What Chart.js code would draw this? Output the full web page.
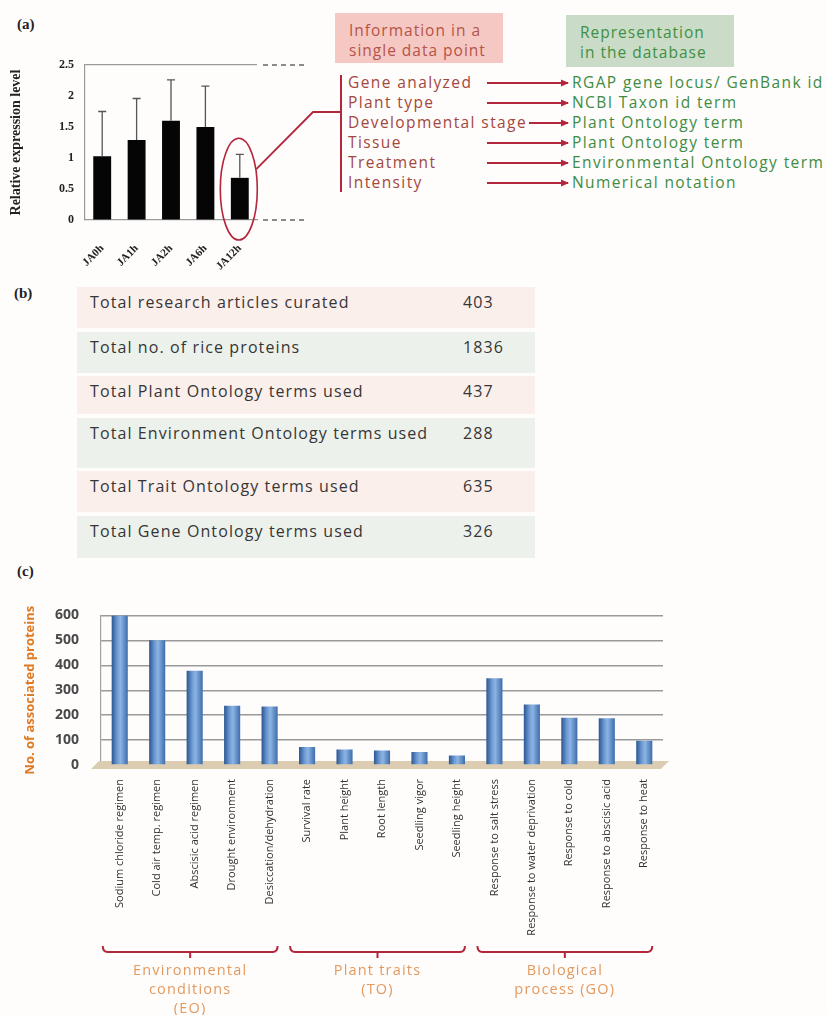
<!DOCTYPE html>
<html>
<head>
<meta charset="utf-8">
<script src="https://cdn.jsdelivr.net/npm/chart.js@4.4.1/dist/chart.umd.min.js"></script>
<style>
  body { margin: 0; width: 827px; height: 1015px; position: relative; overflow: hidden;
         background: #fffcfc; font-family: "Open Sans", sans-serif; }
  .abs { position: absolute; }
  .tag { font: bold 15px "Liberation Serif", serif; color: #222; }
  .box { position: absolute; padding: 7px 0 0 14px; box-sizing: border-box;
         font-size: 15.5px; line-height: 20px; letter-spacing: 1px; }
  .item { position: absolute; font-size: 15.5px; line-height: 20px; letter-spacing: 1.4px; white-space: nowrap; }
  .row { position: absolute; left: 77px; width: 458px; box-sizing: border-box;
         font-size: 16px; line-height: 20px; letter-spacing: 1.1px; color: #363636; padding-top: 5px; }
  .row .lbl { position: absolute; left: 13px; }
  .row .val { position: absolute; left: 386px; }
</style>
</head>
<body>

<div class="abs tag" style="left:17px;top:16px">(a)</div>
<div class="abs tag" style="left:14px;top:285px">(b)</div>
<div class="abs tag" style="left:17px;top:563px">(c)</div>

<div class="abs" style="left:0;top:40px;width:345px;height:230px"><canvas id="chart-expr"></canvas></div>

<div class="box" style="left:335px;top:13px;width:168px;height:50px;background:#f6c8c4;color:#b45448">Information in a<br>single data point</div>
<div class="box" style="left:566px;top:15px;width:168px;height:52px;background:#cadcc7;color:#3f8f44">Representation<br>in the database</div>
<div id="info"></div>
<svg id="arrows" class="abs" style="left:0;top:0" width="827" height="260"></svg>

<div id="stats"></div>

<div class="abs" style="left:0;top:585px;width:690px;height:430px"><canvas id="chart-terms"></canvas></div>

<script>
/* ── data ── */
const timePoints = ['JA0h', 'JA1h', 'JA2h', 'JA6h', 'JA12h'];
const relExpression = [1.03, 1.29, 1.60, 1.50, 0.68];
const relExpressionErrTop = [1.75, 1.96, 2.26, 2.16, 1.06];

const infoItems = ['Gene analyzed', 'Plant type', 'Developmental stage', 'Tissue', 'Treatment', 'Intensity'];
const dbItems = ['RGAP gene locus/ GenBank id', 'NCBI Taxon id term', 'Plant Ontology term',
                 'Plant Ontology term', 'Environmental Ontology term', 'Numerical notation'];

const statLabels = ['Total research articles curated', 'Total no. of rice proteins',
                    'Total Plant Ontology terms used', 'Total Environment Ontology terms used',
                    'Total Trait Ontology terms used', 'Total Gene Ontology terms used'];
const statValues = [403, 1836, 437, 288, 635, 326];

const termLabels = ['Sodium chloride regimen', 'Cold air temp. regimen', 'Abscisic acid regimen',
                    'Drought environment', 'Desiccation/dehydration',
                    'Survival rate', 'Plant height', 'Root length', 'Seedling vigor', 'Seedling height',
                    'Response to salt stress', 'Response to water deprivation', 'Response to cold',
                    'Response to abscisic acid', 'Response to heat'];
const termCounts = [600, 500, 378, 238, 235, 72, 62, 58, 52, 38, 348, 243, 190, 188, 97];

const groupNames = [['Environmental', 'conditions', '(EO)'], ['Plant traits', '(TO)'], ['Biological', 'process (GO)']];
const groupStart = [0, 5, 10];
const groupEnd = [4, 9, 14];

/* ── layout bits (not data) ── */
const SERIF = '"Liberation Serif", "DejaVu Serif", serif';
const RED = '#b3263c';
const ITEM_TOP = 72, ITEM_STEP = 20, ITEM_LEFT = 348, DB_LEFT = 572, ARROW_END = 568;
const ROW_TOP = 287, ROW_HEIGHTS = [41, 41, 38, 50, 41, 42], ROW_GAP = 3.5;
const ROW_COLORS = ['#fbefec', '#edf1ec'];

/* ── (a) info list + arrows ── */
const infoBox = document.getElementById('info');
const svg = document.getElementById('arrows');
let svgHtml = `<defs><marker id="ah" markerWidth="8" markerHeight="8" refX="7" refY="4" orient="auto" markerUnits="userSpaceOnUse">
  <path d="M0,0.5 L8,4 L0,7.5 z" fill="${RED}"/></marker></defs>`;
svgHtml += `<line x1="341" y1="75" x2="341" y2="192" stroke="${RED}" stroke-width="2"/>`;
infoItems.forEach((t, i) => {
  const top = ITEM_TOP + i * ITEM_STEP;
  const l = document.createElement('div');
  l.className = 'item'; l.style.left = ITEM_LEFT + 'px'; l.style.top = top + 'px'; l.style.color = '#a2473d';
  l.textContent = t; infoBox.appendChild(l);
  const r = document.createElement('div');
  r.className = 'item'; r.style.left = DB_LEFT + 'px'; r.style.top = top + 'px'; r.style.color = '#3e8c42';
  r.textContent = dbItems[i]; infoBox.appendChild(r);
  const x1 = Math.max(487, ITEM_LEFT + l.offsetWidth + 2);
  const y = top + 11;
  svgHtml += `<line x1="${x1}" y1="${y}" x2="${ARROW_END}" y2="${y}" stroke="${RED}" stroke-width="2" marker-end="url(#ah)"/>`;
});
svg.innerHTML = svgHtml;

/* ── (b) stats table ── */
const statsBox = document.getElementById('stats');
let rowTop = ROW_TOP;
statLabels.forEach((t, i) => {
  const row = document.createElement('div');
  row.className = 'row';
  row.style.top = rowTop + 'px';
  row.style.height = ROW_HEIGHTS[i] + 'px';
  row.style.background = ROW_COLORS[i % 2];
  row.innerHTML = `<span class="lbl">${t}</span><span class="val">${statValues[i]}</span>`;
  statsBox.appendChild(row);
  rowTop += ROW_HEIGHTS[i] + ROW_GAP;
});

/* ── (a) expression bar chart ── */
const exprExtras = {
  id: 'exprExtras',
  afterDatasetsDraw(chart) {
    const { ctx, scales: { y }, chartArea } = chart;
    const bars = chart.getDatasetMeta(0).data;
    ctx.save();
    // error bars (upper half only)
    ctx.strokeStyle = '#555';
    ctx.lineWidth = 1.3;
    bars.forEach((b, i) => {
      const yt = y.getPixelForValue(relExpressionErrTop[i]);
      ctx.beginPath();
      ctx.moveTo(b.x, b.y); ctx.lineTo(b.x, yt);
      ctx.moveTo(b.x - 4, yt); ctx.lineTo(b.x + 4, yt);
      ctx.stroke();
    });
    // dashed continuation of the top / bottom lines
    ctx.strokeStyle = '#666';
    ctx.setLineDash([5, 4]);
    [y.max, y.min].forEach(v => {
      const py = y.getPixelForValue(v);
      ctx.beginPath(); ctx.moveTo(chartArea.right + 6, py); ctx.lineTo(chartArea.right + 48, py); ctx.stroke();
    });
    ctx.setLineDash([]);
    // ellipse around the last bar and connector to the bracket
    const last = bars[bars.length - 1];
    const top = y.getPixelForValue(relExpressionErrTop[bars.length - 1]) - 16;
    const bottom = y.getPixelForValue(0) + 20;
    const cx = last.x - 1, cy = (top + bottom) / 2, rx = 18.5, ry = (bottom - top) / 2;
    ctx.strokeStyle = RED;
    ctx.lineWidth = 1.6;
    ctx.beginPath(); ctx.ellipse(cx, cy, rx, ry, 0, 0, Math.PI * 2); ctx.stroke();
    ctx.lineWidth = 1.8;
    ctx.beginPath();
    ctx.moveTo(cx + rx - 1, cy - 20);
    ctx.lineTo(313, 112 - 40);
    ctx.lineTo(342, 112 - 40);
    ctx.stroke();
    ctx.restore();
  },
};

new Chart(document.getElementById('chart-expr'), {
  type: 'bar',
  data: {
    labels: timePoints,
    datasets: [{
      data: relExpression,
      backgroundColor: '#050505',
      barPercentage: 0.52,
      categoryPercentage: 1,
    }],
  },
  plugins: [exprExtras],
  options: {
    responsive: true,
    maintainAspectRatio: false,
    animation: false,
    layout: { padding: { top: 25, right: 88, left: 0, bottom: 0 } },
    plugins: { legend: { display: false }, tooltip: { enabled: false } },
    scales: {
      x: {
        grid: { display: false },
        border: { color: '#9a9a9a', width: 1.2 },
        ticks: { color: '#222', font: { family: SERIF, size: 11, weight: 'bold' },
                 minRotation: 45, maxRotation: 45, padding: 14 },
        afterFit: s => { s.height = 50; },
      },
      y: {
        min: 0, max: 2.5,
        grid: { drawTicks: false, color: c => (c.tick && c.tick.value === 2.5 ? '#9a9a9a' : 'transparent'), lineWidth: 1.2 },
        border: { color: '#9a9a9a', width: 1.2 },
        ticks: { stepSize: 0.5, padding: 11, color: '#222', font: { family: SERIF, size: 12, weight: 'bold' },
                 callback: v => String(+v.toFixed(1)) },
        title: { display: true, text: 'Relative expression level', color: '#222',
                 font: { family: SERIF, size: 14, weight: 'bold' }, padding: { top: 8, bottom: 0 } },
        afterFit: s => { s.width = 85; },
      },
    },
  },
});

/* ── (c) associated proteins chart ── */
const termExtras = {
  id: 'termExtras',
  beforeDatasetsDraw(chart) {
    const { ctx, chartArea: a } = chart;
    ctx.save();
    ctx.fillStyle = '#dccdb2';
    ctx.beginPath();
    ctx.moveTo(a.left - 10, a.bottom + 4);
    ctx.lineTo(a.right - 2, a.bottom + 4);
    ctx.lineTo(a.right + 6, a.bottom - 4);
    ctx.lineTo(a.left - 2, a.bottom - 4);
    ctx.closePath();
    ctx.fill();
    ctx.restore();
  },
  afterDraw(chart) {
    const { ctx, scales: { x } } = chart;
    const by = 952 - 585;
    ctx.save();
    ctx.strokeStyle = RED;
    ctx.lineWidth = 2;
    groupNames.forEach((lines, g) => {
      const x0 = x.getPixelForValue(groupStart[g]) - 17;
      const x1 = x.getPixelForValue(groupEnd[g]) + 8;
      const xm = (x0 + x1) / 2;
      ctx.beginPath();
      ctx.moveTo(x0, by - 6);
      ctx.quadraticCurveTo(x0, by, x0 + 5, by);
      ctx.lineTo(x1 - 5, by);
      ctx.quadraticCurveTo(x1, by, x1, by - 6);
      ctx.moveTo(xm, by); ctx.lineTo(xm, by + 6);
      ctx.stroke();
      ctx.fillStyle = '#e39a5e';
      ctx.font = '14.5px "Open Sans", sans-serif';
      ctx.letterSpacing = '1.2px';
      ctx.textAlign = 'center';
      ctx.textBaseline = 'middle';
      lines.forEach((t, k) => ctx.fillText(t, xm, by + 19 + k * 19));
    });
    ctx.restore();
  },
};

new Chart(document.getElementById('chart-terms'), {
  type: 'bar',
  data: {
    labels: termLabels,
    datasets: [{
      data: termCounts,
      barPercentage: 0.43,
      categoryPercentage: 1,
      backgroundColor: c => {
        const ch = c.chart;
        if (!ch.chartArea || c.dataIndex == null) return '#4f81bd';
        const px = ch.scales.x.getPixelForValue(c.dataIndex);
        const g = ch.ctx.createLinearGradient(px - 8, 0, px + 8, 0);
        g.addColorStop(0, '#2b5792');
        g.addColorStop(0.35, '#6f9cd4');
        g.addColorStop(0.55, '#8cb4e3');
        g.addColorStop(1, '#3d6dac');
        return g;
      },
    }],
  },
  plugins: [termExtras],
  options: {
    responsive: true,
    maintainAspectRatio: false,
    animation: false,
    layout: { padding: { top: 15, right: 27, left: 22, bottom: 50 } },
    plugins: { legend: { display: false }, tooltip: { enabled: false } },
    scales: {
      x: {
        grid: { display: false },
        border: { display: false },
        ticks: { color: '#333', font: { family: '"Open Sans", sans-serif', size: 11 },
                 minRotation: 90, maxRotation: 90, autoSkip: false, padding: 6 },
        afterFit: s => { s.height = 200; },
      },
      y: {
        min: 0, max: 600,
        grid: { drawTicks: false, color: '#9a9a9a', lineWidth: 1.4 },
        border: { color: '#a0a0a0', width: 1.2 },
        ticks: { stepSize: 100, padding: 22, color: '#4a4a4a',
                 font: { family: '"Open Sans", sans-serif', size: 14, weight: 'bold' } },
        title: { display: true, text: 'No. of associated proteins', color: '#e07a22',
                 font: { family: '"Open Sans", sans-serif', size: 13, weight: 'bold' }, padding: { top: 0, bottom: 0 } },
        afterFit: s => { s.width = 79; },
      },
    },
  },
});
</script>
</body>
</html>
